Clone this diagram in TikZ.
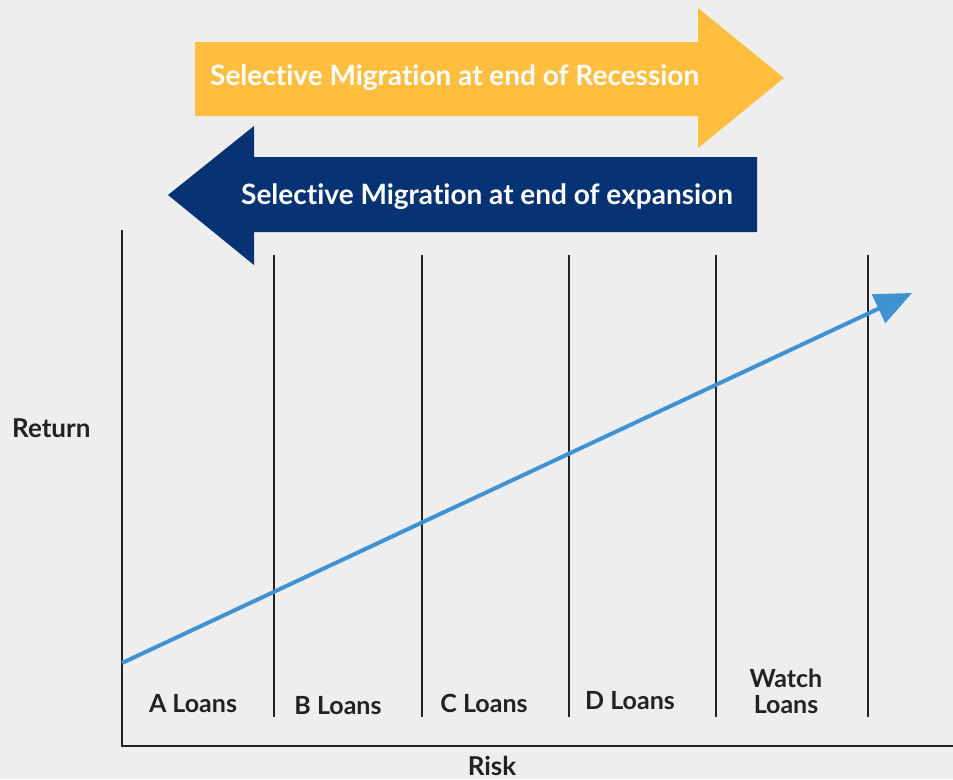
\documentclass[tikz,border=0pt]{standalone}
\usepackage{fontspec}
\setmainfont{Lato}[Ligatures=NoCommon]
\usetikzlibrary{arrows.meta}
\definecolor{bgcol}{HTML}{EEEEEE}
\definecolor{gold}{HTML}{FFBE3D}
\definecolor{navy}{HTML}{073273}
\definecolor{lineblue}{HTML}{4093D3}
\definecolor{ink}{HTML}{222222}

\begin{document}
\begin{tikzpicture}[x=1pt,y=-1pt,
    banner text/.style={font=\bfseries\fontsize{28}{30}\selectfont,text=white,inner sep=0pt},
    loan label/.style={font=\bfseries\fontsize{25}{26}\selectfont,text=ink,inner sep=0pt,align=center,anchor=base},
    axis label/.style={font=\bfseries\fontsize{26}{28}\selectfont,text=ink,inner sep=0pt},
    divider/.style={draw=ink,line width=2pt}]
  % background
  \fill[bgcol] (0,0) rectangle (953,779);
  \useasboundingbox (0,0) rectangle (953,779);

  % migration banners
  \fill[gold] (195,42) -- (698,42) -- (698,8) -- (784,78) -- (698,148) -- (698,116) -- (195,116) -- cycle;
  \fill[navy] (757,157) -- (254,157) -- (254,126) -- (168,195) -- (254,265) -- (254,232) -- (757,232) -- cycle;
  \node[banner text,anchor=base west] (recession) at (210,85) {Selective Migration at end of Recession};
  \node[banner text,anchor=base west] (expansion) at (241,204) {Selective Migration at end of expansion};

  % axes
  \coordinate (ytop) at (122,230);
  \coordinate (origin) at (122,746);
  \coordinate (xend) at (953,746);
  \draw[ink,line width=2.5pt] (ytop) -- (origin) -- (xend);

  % loan classes
  \foreach \x in {274,422,569,716,868}
    \draw[divider] (\x,255) -- (\x,717);
  \node[loan label] (aloans) at (193,712) {A Loans};
  \node[loan label] (bloans) at (338,714) {B Loans};
  \node[loan label] (cloans) at (484,712) {C Loans};
  \node[loan label] (dloans) at (630,709) {D Loans};
  \node[loan label] (watch) at (786,713) {Watch\\Loans};

  \node[axis label,anchor=base] (risk) at (492,775) {Risk};
  \node[axis label,anchor=base west] (return) at (12,437) {Return};

  % risk/return trend
  \coordinate (trendstart) at (122,663);
  \coordinate (trendend) at (912,293);
  \draw[lineblue,line width=4pt,-{Triangle[length=37pt,width=31pt]}] (trendstart) -- (trendend);
\end{tikzpicture}
\end{document}
